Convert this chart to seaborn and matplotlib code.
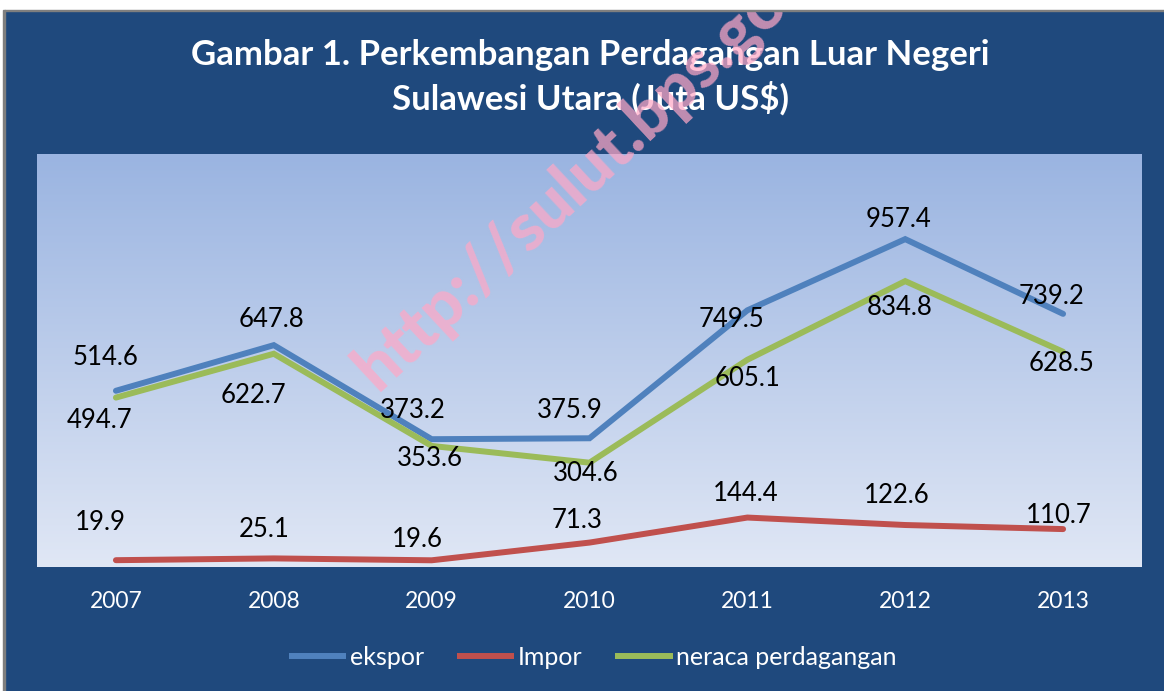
import pandas as pd
import matplotlib.pyplot as plt
import seaborn as sns
import numpy as np
from matplotlib.patches import Rectangle

# data
tahun = ['2007', '2008', '2009', '2010', '2011', '2012', '2013']
ekspor = [514.6, 647.8, 373.2, 375.9, 749.5, 957.4, 739.2]
impor = [19.9, 25.1, 19.6, 71.3, 144.4, 122.6, 110.7]
neraca = [494.7, 622.7, 353.6, 304.6, 605.1, 834.8, 628.5]
seri = ['ekspor', 'Impor', 'neraca perdagangan']
warna = ['#4F81BD', '#C0504D', '#9BBB59']

# label offsets (pixels) for data labels
off_ekspor = [(-10, 33), (-2, 26), (-19, 29), (-20, 28), (-16, -9), (-7, 20), (-12, 17)]
off_impor = [(-16, 38), (-10, 29), (-14, 21), (-12, 22), (-2, 24), (-8, 30), (-4, 14)]
off_neraca = [(-16, -23), (-20, -42), (-2, -13), (-4, -11), (0, -19), (-6, -26), (-2, -12)]

df = pd.DataFrame({
    'tahun': tahun * 3,
    'nilai': ekspor + impor + neraca,
    'seri': [s for s in seri for _ in tahun],
})

sns.set_style('white')
plt.rcParams['font.family'] = ['Lato', 'DejaVu Sans']

bg = '#1F497D'
fig = plt.figure(figsize=(11.64, 6.91), dpi=100, facecolor=bg)
ax = fig.add_axes([37 / 1164, 1 - 567 / 691, 1105 / 1164, 413 / 691])

# gradient plot area
grad = np.linspace(0, 1, 256).reshape(-1, 1)
cmap = plt.matplotlib.colors.LinearSegmentedColormap.from_list('g', ['#9AB4E1', '#E0E7F5'])
ax.imshow(grad, cmap=cmap, aspect='auto', extent=(-0.5, 6.5, 0, 1206),
          zorder=0, origin='upper')

sns.lineplot(data=df, x='tahun', y='nilai', hue='seri', palette=warna,
             linewidth=4.3, ax=ax, zorder=3, legend=True)
for ln in ax.lines:
    ln.set_solid_capstyle('round')
    ln.set_solid_joinstyle('miter')

ax.set_xlim(-0.5, 6.5)
ax.set_ylim(0, 1206)
ax.set_yticks([])
ax.set_xlabel('')
ax.set_ylabel('')
for s in ax.spines.values():
    s.set_visible(False)
ax.tick_params(axis='x', length=0, pad=17, labelsize=16.5, labelcolor='white')

for vals, offs in [(ekspor, off_ekspor), (impor, off_impor), (neraca, off_neraca)]:
    for i, (v, o) in enumerate(zip(vals, offs)):
        ax.annotate(f'{v:.1f}', (i, v), xytext=o, textcoords='offset pixels',
                    ha='center', va='center', fontsize=18.5, color='black', zorder=5)

sns.move_legend(ax, 'center', bbox_to_anchor=(0.503, -0.218), ncol=3,
                frameon=False, title=None, fontsize=18, labelcolor='white',
                handlelength=2.3, handletextpad=0.15, columnspacing=1.3)
for h in ax.get_legend().legend_handles:
    h.set_linewidth(4.3)
    h.set_solid_capstyle('butt')

fig.text(0.507, 1 - 77 / 691,
         'Gambar 1. Perkembangan Perdagangan Luar Negeri\nSulawesi Utara (Juta US$)',
         ha='center', va='center', color='white', fontsize=25, fontweight='bold',
         linespacing=1.35)

# watermark
fig.text(377 / 1164, 1 - 392 / 691, 'http://sulut.bps.go.id', rotation=43,
         rotation_mode='anchor', ha='left', va='baseline', fontsize=48,
         fontweight='black', color='#FFA8C6', alpha=0.72, zorder=10)

# page edge
fig.add_artist(Rectangle((0, 1 - 10 / 691), 1, 10 / 691, transform=fig.transFigure,
                         color='white', zorder=11))
fig.add_artist(Rectangle((0, 1 - 11 / 691), 1, 1.5 / 691, transform=fig.transFigure,
                         color='#7F7F7F', zorder=11))
fig.add_artist(Rectangle((0, 0), 4 / 1164, 1, transform=fig.transFigure,
                         color='white', zorder=11))
fig.add_artist(Rectangle((3 / 1164, 0), 1.5 / 1164, 1 - 10 / 691, transform=fig.transFigure,
                         color='#7F7F7F', zorder=11))

fig.savefig('out.png', dpi=100, facecolor=bg)
